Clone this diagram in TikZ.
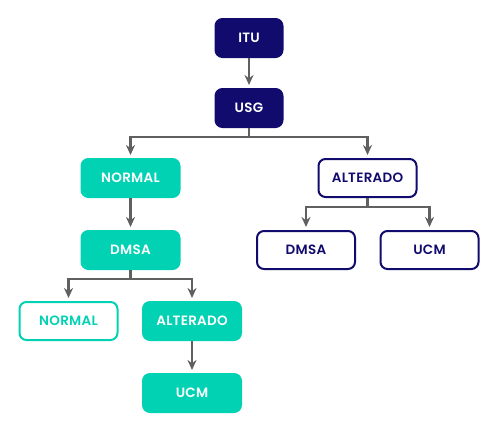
\documentclass[tikz,border=0pt]{standalone}
\usepackage{fontspec}
\setmainfont{Poppins}[BoldFont={* SemiBold}, LetterSpace=2]
\usetikzlibrary{arrows.meta}
\definecolor{navy}{HTML}{110B6E}
\definecolor{teal}{HTML}{02D2B4}
\definecolor{arrgray}{HTML}{606060}
\begin{document}
\begin{tikzpicture}[x=1pt,y=-1pt,
  box/.style={rounded corners=7pt, minimum width=98pt, minimum height=38pt,
    font=\fontsize{13.5}{15}\selectfont\bfseries, inner sep=0pt, line width=2pt},
  navyfill/.style={box, fill=navy, draw=navy, text=white, minimum width=67pt},
  tealfill/.style={box, fill=teal, draw=teal, text=white},
  tealline/.style={box, fill=white, draw=teal, text=teal},
  navyline/.style={box, fill=white, draw=navy, text=navy},
  arr/.style={draw=arrgray, line width=2.2pt, -{Stealth[length=10pt,width=9pt]}, shorten >=3pt}]
\useasboundingbox (0,0) rectangle (494,424);
\node[navyfill] (itu) at (249,38) {ITU};
\node[navyfill] (usg) at (249,108) {USG};
\node[tealfill] (n1) at (130.5,178) {NORMAL};
\node[navyline] (a1) at (367.5,178) {ALTERADO};
\node[tealfill] (d1) at (130.5,250) {DMSA};
\node[navyline] (d2) at (306,250) {DMSA};
\node[navyline] (u2) at (429.5,250) {UCM};
\node[tealline] (n2) at (68.5,321) {NORMAL};
\node[tealfill] (a2) at (192,321) {ALTERADO};
\node[tealfill] (u1) at (192,393) {UCM};
\draw[arr] (itu.south) -- (usg.north);
\draw[arr] (usg.south) -- ++(0,9) -| (n1.north);
\draw[arr] (usg.south) -- ++(0,9) -| (a1.north);
\draw[arr] (n1.south) -- (d1.north);
\draw[arr] (d1.south) -- ++(0,9) -| (n2.north);
\draw[arr] (d1.south) -- ++(0,9) -| (a2.north);
\draw[arr] (a2.south) -- (u1.north);
\draw[arr] (a1.south) -- ++(0,9) -| (d2.north);
\draw[arr] (a1.south) -- ++(0,9) -| (u2.north);
\end{tikzpicture}
\end{document}
